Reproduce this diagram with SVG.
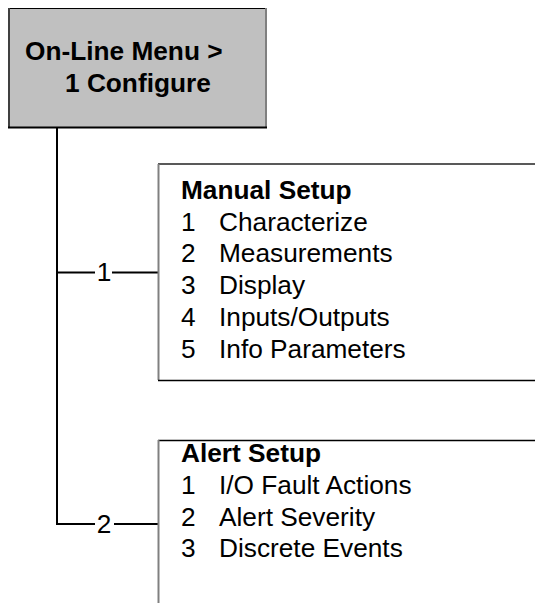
<svg xmlns="http://www.w3.org/2000/svg" width="535" height="603" viewBox="0 0 535 603">
<style>
text{font-family:"Liberation Sans",Arial,sans-serif;font-size:25px;fill:#000}
.b{font-weight:bold}
.c{stroke:#000;stroke-width:2;fill:none}
.g{stroke:#808080;stroke-width:2;fill:none}
</style>
<rect width="535" height="603" fill="#fff"/>
<g id="root">
<rect x="8" y="8" width="259" height="120" fill="#c0c0c0"/>
<line x1="8" y1="8.5" x2="267" y2="8.5" stroke="#000" stroke-width="1"/>
<line x1="9" y1="8" x2="9" y2="128" stroke="#404040" stroke-width="2"/>
<line x1="266" y1="8" x2="266" y2="128" stroke="#808080" stroke-width="2"/>
<line x1="8" y1="127.5" x2="267" y2="127.5" stroke="#000" stroke-width="2"/>
<text class="b" transform="translate(25,60) scale(1.05,1)">On-Line Menu &gt;</text>
<text class="b" transform="translate(65,92) scale(1.05,1)">1 Configure</text>
</g>
<g id="connectors">
<line class="c" x1="57" y1="128" x2="57" y2="525"/>
<line class="c" x1="56" y1="272.5" x2="95" y2="272.5" stroke-width="1.5"/>
<line class="c" x1="112" y1="272.5" x2="159" y2="272.5" stroke-width="1.5"/>
<line class="c" x1="56" y1="524" x2="95" y2="524" stroke-width="1.5"/>
<line class="c" x1="114" y1="524" x2="159" y2="524" stroke-width="1.5"/>
<text transform="translate(104,281) scale(1.05,1)" text-anchor="middle">1</text>
<text transform="translate(104,532.5) scale(1.05,1)" text-anchor="middle">2</text>
</g>
<g id="manual">
<line x1="158" y1="164" x2="535" y2="164" stroke="#222" stroke-width="1.5"/>
<line class="g" x1="158.5" y1="164" x2="158.5" y2="380"/>
<line x1="158" y1="380.5" x2="535" y2="380.5" stroke="#000" stroke-width="1.5"/>
<text class="b" transform="translate(181,199) scale(1.05,1)">Manual Setup</text>
<text transform="translate(181,231) scale(1.05,1)">1</text>
<text transform="translate(219,231) scale(1.05,1)">Characterize</text>
<text transform="translate(181,262) scale(1.05,1)">2</text>
<text transform="translate(219,262) scale(1.05,1)">Measurements</text>
<text transform="translate(181,294) scale(1.05,1)">3</text>
<text transform="translate(219,294) scale(1.05,1)">Display</text>
<text transform="translate(181,326) scale(1.05,1)">4</text>
<text transform="translate(219,326) scale(1.05,1)">Inputs/Outputs</text>
<text transform="translate(181,358) scale(1.05,1)">5</text>
<text transform="translate(219,358) scale(1.05,1)">Info Parameters</text>
</g>
<g id="alert">
<line x1="158" y1="440.5" x2="535" y2="440.5" stroke="#000" stroke-width="1.5"/>
<line class="g" x1="158.5" y1="440" x2="158.5" y2="603"/>
<text class="b" transform="translate(181,462) scale(1.05,1)">Alert Setup</text>
<text transform="translate(181,494) scale(1.05,1)">1</text>
<text transform="translate(219,494) scale(1.05,1)">I/O Fault Actions</text>
<text transform="translate(181,526) scale(1.05,1)">2</text>
<text transform="translate(219,526) scale(1.05,1)">Alert Severity</text>
<text transform="translate(181,557) scale(1.05,1)">3</text>
<text transform="translate(219,557) scale(1.05,1)">Discrete Events</text>
</g>
</svg>
